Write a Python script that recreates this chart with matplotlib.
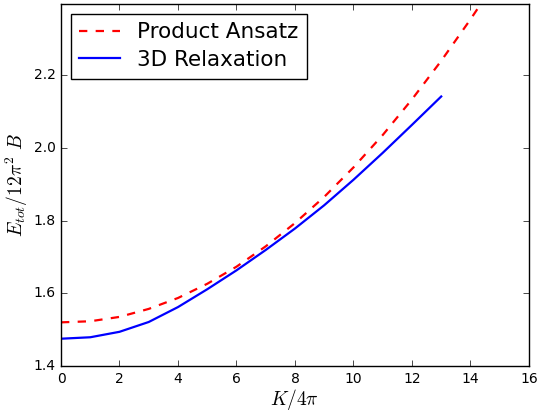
import numpy as np
import matplotlib
matplotlib.use('Agg')
import matplotlib.pyplot as plt

# values
k_ansatz = [0, 1, 2, 3, 4, 5, 6, 7, 8, 9, 10, 11, 12, 13, 14, 14.5]
e_ansatz = [1.520, 1.523, 1.535, 1.557, 1.587, 1.626, 1.673, 1.729, 1.793,
            1.865, 1.946, 2.035, 2.133, 2.239, 2.353, 2.413]

k_relax = [0, 1, 2, 3, 4, 5, 6, 7, 8, 9, 10, 11, 12, 13]
e_relax = [1.475, 1.479, 1.494, 1.521, 1.562, 1.611, 1.663, 1.719, 1.778,
           1.842, 1.912, 1.986, 2.063, 2.141]

x_ticks = [0, 2, 4, 6, 8, 10, 12, 14, 16]
y_ticks = [1.4, 1.6, 1.8, 2.0, 2.2]

plt.style.use('classic')
plt.rcParams['mathtext.fontset'] = 'cm'

fig = plt.figure(figsize=(5.37, 4.11), dpi=100, facecolor='white')
ax = fig.add_axes([0.1136, 0.1095, 0.8714, 0.8805])

ax.plot(k_ansatz, e_ansatz, 'r--', lw=1.6, label='Product Ansatz')
ax.plot(k_relax, e_relax, 'b-', lw=1.6, label='3D Relaxation')

ax.set_xlim(0, 16)
ax.set_ylim(1.4, 2.395)
ax.set_xticks(x_ticks)
ax.set_yticks(y_ticks)
ax.tick_params(labelsize=10)
ax.set_xlabel(r'$K/4\pi$', fontsize=14, labelpad=1)
ax.set_ylabel(r'$E_{tot}/12\pi^2\ B$', fontsize=14)
ax.yaxis.set_label_coords(-0.066, 0.5)

ax.legend(loc='upper left', fontsize=15.5, numpoints=1, handlelength=1.9,
          labelspacing=0.35, borderaxespad=0.45)

fig.savefig('out.png', dpi=100, facecolor='white')
